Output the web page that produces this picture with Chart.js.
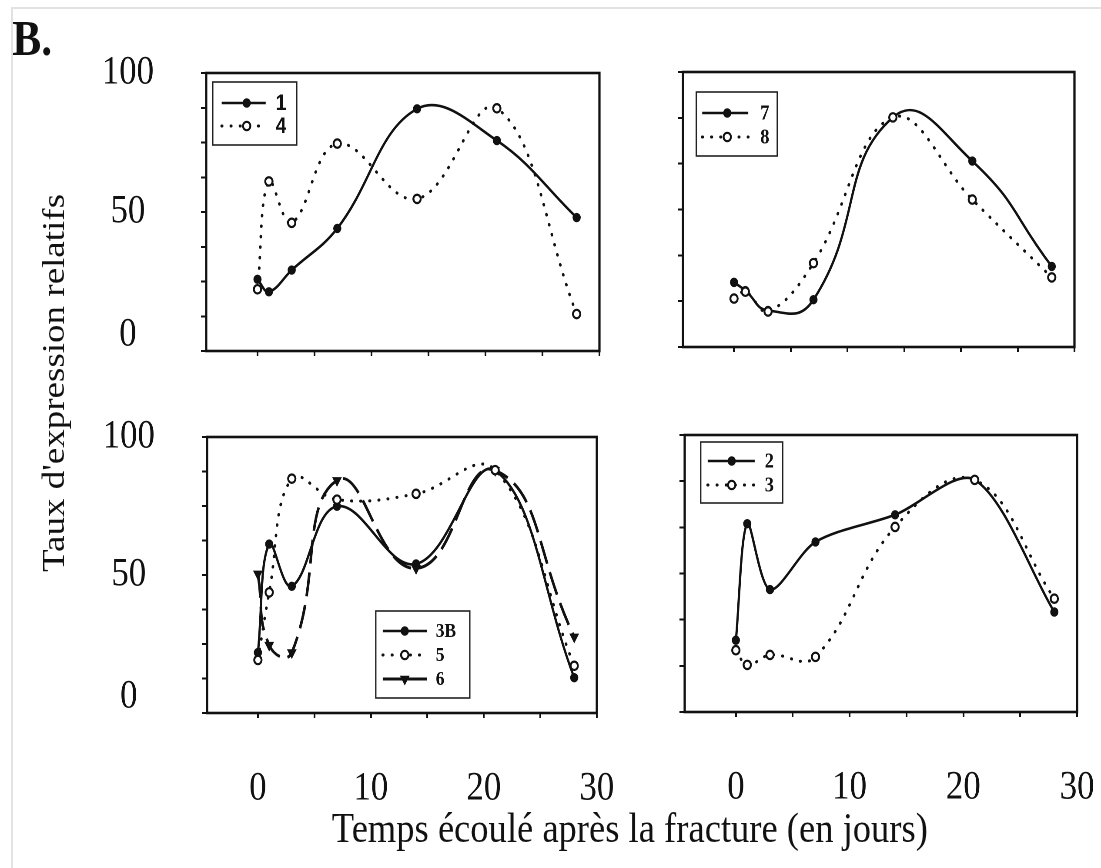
<!DOCTYPE html>
<html><head><meta charset="utf-8">
<script src="https://cdn.jsdelivr.net/npm/chart.js@4.4.1/dist/chart.umd.min.js"></script>
<style>
html,body{margin:0;padding:0;background:#fff;}
body{width:1101px;height:868px;overflow:hidden;position:relative;}
#outer{position:absolute;left:11px;top:7px;width:1200px;height:900px;border-left:2px solid #e2e2e2;border-top:2px solid #e2e2e2;}
#wrap{position:absolute;left:0;top:0;width:1266px;height:868px;transform:scaleX(0.87);transform-origin:0 0;}
.txt{position:absolute;font-family:"Liberation Serif","Times New Roman",serif;color:#111;white-space:nowrap;line-height:1;}
#B{left:14px;top:13px;font-size:50px;font-weight:bold;}
#ytitle{left:60.5px;top:383px;font-size:37px;transform:translate(-50%,-50%) rotate(-90deg);}
#xtitle{left:724px;top:828px;font-size:42px;transform:translate(-50%,-50%);}
canvas{position:absolute;}
</style></head><body>
<div id="outer"></div>
<div id="wrap">
  <div class="txt" id="B">B.</div>
  <div class="txt" id="ytitle">Taux d'expression relatifs</div>
  <div class="txt" id="xtitle">Temps écoulé après la fracture (en jours)</div>
</div>
<script>
// ---- data ----
const DAYS = [0, 1, 3, 7, 14, 21, 28];
const S1  = [25.8, 21.3, 29.1, 44.1, 87.1, 75.7, 48.0];
const S4  = [22.2, 61.0, 46.1, 74.6, 54.7, 87.3, 13.3];
const S7  = [23.5, 20.5, 13.3, 17.2, 83.5, 67.6, 29.3];
const S8  = [17.6, 20.1, 12.9, 30.5, 83.5, 53.6, 25.3];
const S3B = [21.9, 61.2, 45.9, 74.9, 54.0, 87.9, 12.8];
const S5  = [19.2, 43.7, 84.9, 77.3, 79.4, 88.0, 17.1];
const S6  = [50.4, 24.6, 21.9, 84.3, 52.4, 87.9, 27.6];
const S2  = [25.9, 68.0, 44.2, 61.4, 71.2, 83.8, 36.1];
const S3  = [22.3, 17.0, 20.6, 19.9, 66.8, 83.8, 40.9];

const XTICKS = [0, 5, 10, 15, 20, 25, 30];
const XLABELS = [0, 10, 20, 30];
const YTICKS_LEFT = [0, 12.5, 25, 37.5, 50, 62.5, 75, 87.5, 100];
const YTICKS_RIGHT = [0, 100/6, 200/6, 50, 400/6, 500/6, 100];
const YLABELS = [0, 50, 100];

// ---- styling ----
const SX = 0.87;
const INK = '#111';
const SERIF = '"Liberation Serif","Times New Roman",serif';
const STYLES = {
  solid: {borderColor: INK, borderWidth: 2.6, borderDash: [], pointStyle: 'circle', pointRadius: 4.2, order: 2,
          pointBackgroundColor: INK, pointBorderColor: INK, pointBorderWidth: 1, pointRotation: 0},
  dot:   {borderColor: INK, borderWidth: 3, borderDash: [0.5, 10], borderCapStyle: 'round', pointStyle: 'circle', pointRadius: 4.2, order: 0,
          pointBackgroundColor: '#fff', pointBorderColor: INK, pointBorderWidth: 2.2, pointRotation: 0},
  dash:  {borderColor: INK, borderWidth: 3, borderDash: [24, 9], pointStyle: 'triangle', pointRadius: 5.5, order: 1,
          pointBackgroundColor: INK, pointBorderColor: INK, pointBorderWidth: 1, pointRotation: 180}
};

const framePlugin = {
  id: 'frameBox',
  afterDatasetsDraw(chart) {
    const {ctx, chartArea: ca} = chart;
    ctx.save();
    ctx.strokeStyle = INK; ctx.lineWidth = 2.6;
    ctx.strokeRect(ca.left, ca.top, ca.right - ca.left, ca.bottom - ca.top);
    ctx.restore();
  }
};

const boxLegend = {
  id: 'boxLegend',
  afterDraw(chart, args, o) {
    if (!o || !o.rows) return;
    const ctx = chart.ctx, ca = chart.chartArea, f = chart.$frame;
    const X = v => ca.left + (v - f.l) / SX;
    const Y = v => ca.top + (v - f.t);
    ctx.save();
    ctx.fillStyle = '#fff';
    ctx.fillRect(X(o.l), Y(o.t), X(o.r) - X(o.l), Y(o.b) - Y(o.t));
    ctx.strokeStyle = '#222'; ctx.lineWidth = 1.6;
    ctx.strokeRect(X(o.l), Y(o.t), X(o.r) - X(o.l), Y(o.b) - Y(o.t));
    chart.data.datasets.forEach((ds, i) => {
      const y = Y(o.rows[i]);
      ctx.save();
      ctx.strokeStyle = ds.borderColor; ctx.lineWidth = ds.borderWidth;
      ctx.setLineDash(o.solidSample && ds.borderDash.length && ds.borderDash[0] > 5 ? [] : ds.borderDash);
      ctx.lineCap = ds.borderCapStyle || 'butt';
      ctx.beginPath(); ctx.moveTo(X(o.l0), y); ctx.lineTo(X(o.l1), y); ctx.stroke();
      ctx.restore();
      ctx.save();
      ctx.fillStyle = ds.pointBackgroundColor; ctx.strokeStyle = ds.pointBorderColor; ctx.lineWidth = ds.pointBorderWidth;
      Chart.helpers.drawPoint(ctx, {pointStyle: ds.pointStyle, rotation: ds.pointRotation, radius: ds.pointRadius,
        borderWidth: ds.pointBorderWidth}, X(o.mx), y);
      ctx.restore();
      ctx.fillStyle = INK; ctx.font = o.font; ctx.textBaseline = 'middle'; ctx.textAlign = 'left';
      ctx.fillText(ds.label, X(o.tx), y + 1);
    });
    ctx.restore();
  }
};

const zeroPad = s => { s.paddingLeft = 0; s.paddingRight = 0; s.paddingTop = 0; s.paddingBottom = 0; };

const PANELS = [
  {frame: {l: 206.5, r: 600, t: 73, b: 351}, yw: 140, tpad: 40, rpad: 30, xh: 20,
   yticks: YTICKS_LEFT, showY: true, showX: false,
   series: [['1', S1, 'solid', 0.4], ['4', S4, 'dot', 0.4]],
   legend: {l: 213, t: 82, r: 297, b: 145, rows: [103, 126], l0: 222, l1: 266, mx: 247, tx: 276,
            font: 'bold 22px "Liberation Sans", Arial, sans-serif'}},
  {frame: {l: 682.7, r: 1074.3, t: 72, b: 346.5}, yw: 20, tpad: 40, rpad: 30, xh: 20,
   yticks: YTICKS_RIGHT, showY: false, showX: false,
   series: [['7', S7, 'solid', 0.5], ['8', S8, 'dot', 0.4]],
   legend: {l: 696, t: 92, r: 777, b: 156, rows: [113, 137], l0: 702, l1: 748, mx: 727, tx: 760,
            font: 'bold 21px ' + SERIF}},
  {frame: {l: 207.3, r: 597.3, t: 437, b: 713}, yw: 140, tpad: 30, rpad: 40, xh: 110,
   yticks: YTICKS_LEFT, showY: true, showX: true,
   series: [['3B', S3B, 'solid', 0.4], ['5', S5, 'dot', 0.4], ['6', S6, 'dash', 0.5]],
   legend: {l: 376, t: 611, r: 470, b: 698, rows: [631, 655, 679], l0: 383, l1: 427, mx: 405, tx: 436,
            font: 'bold 20px ' + SERIF, solidSample: true}},
  {frame: {l: 685, r: 1077.7, t: 435, b: 712}, yw: 20, tpad: 30, rpad: 30, xh: 110,
   yticks: YTICKS_RIGHT, showY: false, showX: true,
   series: [['2', S2, 'solid', 0.3], ['3', S3, 'dot', 0.4]],
   legend: {l: 701, t: 442, r: 783, b: 503, rows: [461, 485], l0: 708, l1: 755, mx: 732, tx: 765,
            font: 'bold 21px ' + SERIF}}
];

const wrap = document.getElementById('wrap');

PANELS.forEach(p => {
  const L = p.frame.l / SX, R = p.frame.r / SX;
  const W = Math.round(p.yw + (R - L) + p.rpad);
  const H = Math.round(p.tpad + (p.frame.b - p.frame.t) + p.xh);
  const c = document.createElement('canvas');
  c.style.left = (L - p.yw) + 'px';
  c.style.top = (p.frame.t - p.tpad) + 'px';
  c.style.width = W + 'px'; c.style.height = H + 'px';
  c.width = W; c.height = H;
  wrap.appendChild(c);

  const datasets = p.series.map(([label, arr, st, tension]) => Object.assign({
    label,
    data: DAYS.map((d, i) => ({x: d, y: arr[i]})),
    tension,
    fill: false
  }, JSON.parse(JSON.stringify(STYLES[st]))));

  const chart = new Chart(c, {
    type: 'line',
    data: {datasets},
    options: {
      responsive: false,
      animation: false,
      devicePixelRatio: 2,
      layout: {padding: {top: p.tpad, right: p.rpad, left: 0, bottom: 0}, autoPadding: false},
      plugins: {legend: {display: false}, tooltip: {enabled: false}, boxLegend: p.legend},
      scales: {
        x: {
          type: 'linear', min: -4.5, max: 30,
          afterBuildTicks: s => { s.ticks = XTICKS.map(v => ({value: v})); },
          afterFit: s => { s.height = p.xh; zeroPad(s); },
          border: {display: false},
          grid: {drawOnChartArea: false, drawTicks: true, tickLength: 5, tickWidth: 2, tickColor: INK},
          ticks: {
            autoSkip: false, maxRotation: 0, padding: 47, color: INK,
            font: {family: SERIF, size: 40, lineHeight: 1.2},
            callback: v => (p.showX && XLABELS.includes(v)) ? String(v) : ''
          }
        },
        y: {
          type: 'linear', min: 0, max: 100,
          afterBuildTicks: s => { s.ticks = p.yticks.map(v => ({value: v})); },
          afterFit: s => { s.width = p.yw; zeroPad(s); },
          border: {display: false},
          grid: {drawOnChartArea: false, drawTicks: true, tickLength: 6, tickWidth: 2, tickColor: INK},
          ticks: {
            autoSkip: false, padding: 54, crossAlign: 'center', color: INK,
            font: {family: SERIF, size: 40, lineHeight: 0.8},
            callback: v => (p.showY && YLABELS.includes(v)) ? (v === 0 ? ['0', ''] : String(v)) : ''
          }
        }
      }
    },
    plugins: [framePlugin, boxLegend, {
      id: 'frameRef', beforeInit(ch) { ch.$frame = p.frame; }
    }]
  });
  chart.$frame = p.frame;
  chart.draw();
});
</script>
</body></html>
